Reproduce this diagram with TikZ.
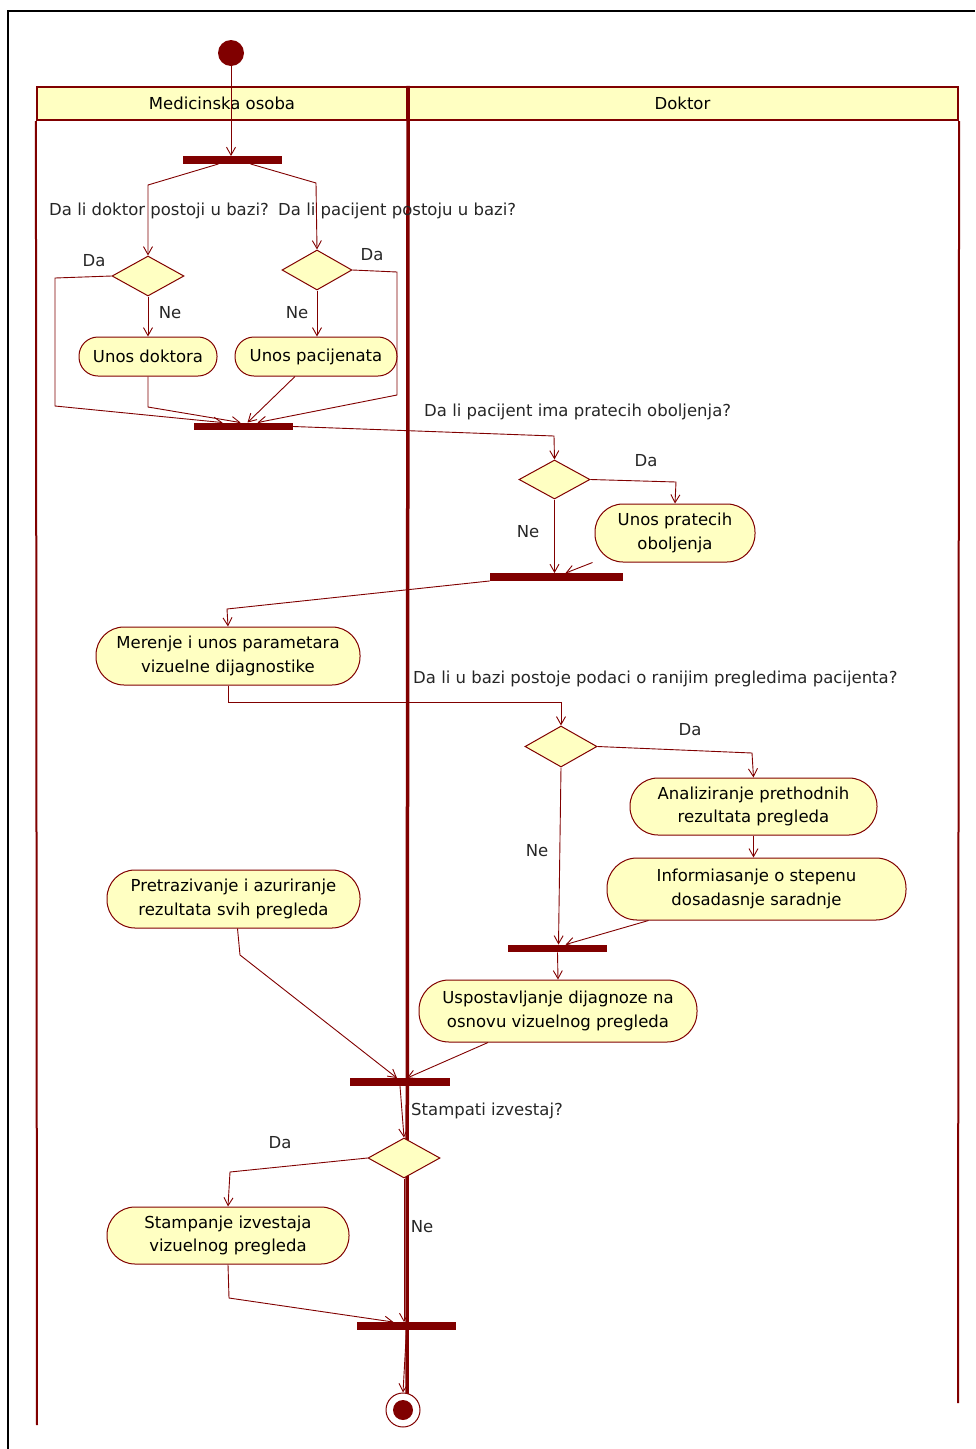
\documentclass[tikz,border=0pt]{standalone}
\usepackage{fontspec}
\setmainfont{DejaVu Sans}
\usepackage{xcolor}
\usepackage{tikz}
\usetikzlibrary{arrows.meta,positioning,calc,shapes.geometric}
\definecolor{umlred}{RGB}{128,0,0}
\definecolor{umlfill}{RGB}{255,255,194}

\begin{document}
\begin{tikzpicture}[x=1pt, y=-1pt, font=\fontsize{16.5}{23.5}\selectfont]
    \tikzstyle{lanehead}=[draw=umlred, line width=2.2pt, fill=umlfill, inner sep=0pt]
    \tikzstyle{activity}=[draw=umlred, line width=1pt, fill=umlfill, rounded corners=19pt, align=center, inner sep=0pt]
    \tikzstyle{bar}=[fill=umlred, inner sep=0pt, minimum width=99pt, minimum height=7.5pt]
    \tikzstyle{decision}=[diamond, draw=umlred, line width=1pt, fill=umlfill, inner sep=0pt, minimum width=72pt, minimum height=40pt]
    \tikzstyle{flow}=[draw=umlred, line width=0.9pt, -{Straight Barb[length=8pt,width=9pt]}]
    \tikzstyle{guard}=[inner sep=0pt, text=black!85]
    \tikzstyle{cond}=[inner sep=0pt, anchor=west, text=black!85]
    \useasboundingbox (0,0) rectangle (975,1449);
    \draw[black, line width=1.5pt] (975,11) -- (8,11) -- (8,1449);

    % swimlanes
    \node[lanehead, minimum width=370pt, minimum height=33pt] (laneMO) at (222,103.5) {Medicinska osoba};
    \node[lanehead, minimum width=551pt, minimum height=33pt] (laneDR) at (682.5,103.5) {Doktor};
    \draw[umlred, line width=2pt] (laneMO.south west) -- (37,1425);
    \draw[umlred, line width=2pt] (laneDR.south east) -- (958,1403);
    \draw[umlred, line width=3.5pt] (laneMO.north east) -- (407,1398);

    % start / end
    \node[circle, fill=umlred, minimum width=23pt, minimum height=26pt, inner sep=0pt] (start) at (231,53) {};
    \node[circle, draw=umlred, line width=1pt, fill=white, minimum size=34pt, inner sep=0pt] (end) at (403,1410) {};
    \fill[umlred] (end.center) circle (10pt);

    % bars
    \node[bar] (fork1) at (232.5,160) {};
    \node[bar] (bar2) at (243.5,426.5) {};
    \node[bar, minimum width=133pt] (bar3) at (556.5,577) {};
    \node[bar] (bar4) at (557.5,948.5) {};
    \node[bar, minimum width=100pt] (bar5) at (400,1082) {};
    \node[bar] (bar6) at (406.5,1326) {};

    % decisions
    \node[decision] (d1) at (148,276) {};
    \node[decision, minimum width=70pt] (d2) at (317,270) {};
    \node[decision, minimum width=71pt, minimum height=39pt] (d3) at (554.5,479.5) {};
    \node[decision, minimum height=41pt] (d4) at (561,746.5) {};
    \node[decision] (d5) at (404,1158) {};

    % activities
    \node[activity, minimum width=138pt, minimum height=39pt] (unosD) at (148,356.5) {Unos doktora};
    \node[activity, minimum width=162pt, minimum height=39pt] (unosP) at (316,356.5) {Unos pacijenata};
    \node[activity, minimum width=160pt, minimum height=58pt, rounded corners=28pt] (unosPr) at (675,533) {Unos pratecih\\oboljenja};
    \node[activity, minimum width=264pt, minimum height=58pt, rounded corners=28pt] (merenje) at (228,656) {Merenje i unos parametara\\vizuelne dijagnostike};
    \node[activity, minimum width=247pt, minimum height=57pt, rounded corners=28pt] (analiz) at (753.5,806.5) {Analiziranje prethodnih\\rezultata pregleda};
    \node[activity, minimum width=299pt, minimum height=62pt, rounded corners=30pt] (inform) at (756.5,889) {Informiasanje o stepenu\\dosadasnje saradnje};
    \node[activity, minimum width=253pt, minimum height=58pt, rounded corners=28pt] (pretraz) at (233.5,899) {Pretrazivanje i azuriranje\\rezultata svih pregleda};
    \node[activity, minimum width=278pt, minimum height=62pt, rounded corners=30pt] (uspost) at (558,1011) {Uspostavljanje dijagnoze na\\osnovu vizuelnog pregleda};
    \node[activity, minimum width=242pt, minimum height=57pt, rounded corners=28pt] (stamp) at (228,1235.5) {Stampanje izvestaja\\vizuelnog pregleda};

    % conditions
    \node[cond] (q1) at (49,211) {Da li doktor postoji u bazi?};
    \node[cond] (q2) at (278,211) {Da li pacijent postoju u bazi?};
    \node[cond] (q3) at (424,412) {Da li pacijent ima pratecih oboljenja?};
    \node[cond] (q4) at (413,679) {Da li u bazi postoje podaci o ranijim pregledima pacijenta?};
    \node[cond] (q5) at (411,1111) {Stampati izvestaj?};

    % guards
    \node[guard] (g1da) at (94,261) {Da};
    \node[guard] (g1ne) at (170,313) {Ne};
    \node[guard] (g2da) at (372,255) {Da};
    \node[guard] (g2ne) at (297,313) {Ne};
    \node[guard] (g3da) at (646,461) {Da};
    \node[guard] (g3ne) at (528,532) {Ne};
    \node[guard] (g4da) at (690,730) {Da};
    \node[guard] (g4ne) at (537,851) {Ne};
    \node[guard] (g5da) at (280,1143) {Da};
    \node[guard] (g5ne) at (422,1227) {Ne};

    % flows
    \draw[flow] (start) -- (start |- fork1.north);
    \draw[flow] ([xshift=-14pt]fork1.south) -- (148,185) -- (d1.north);
    \draw[flow] ([xshift=18pt]fork1.south) -- (316,183) -- (d2.north);
    \draw[flow] (d1.south) -- (unosD.north);
    \draw[flow] (d2.south) -- (d2 |- unosP.north);
    \draw[flow] (d1.west) -- (55,278) -- (55,406) -- ([xshift=-21pt]bar2.north);
    \draw[flow] (unosD.south) -- (148,407) -- ([xshift=-3pt]bar2.north);
    \draw[flow] ([xshift=-21pt]unosP.south) -- ([xshift=4pt]bar2.north);
    \draw[flow] (d2.east) -- (397,272) -- (397,395) -- ([xshift=14pt]bar2.north);
    \draw[flow] (bar2.east) -- (554,436) -- (d3.north);
    \draw[flow] (d3.east) -- (676,482) -- (unosPr.north);
    \draw[flow] (d3.south) -- (d3 |- bar3.north);
    \draw[flow] ([xshift=-2pt]unosPr.south west) -- ([xshift=9pt]bar3.north);
    \draw[flow] (bar3.south west) -- (227,609) -- (merenje.north);
    \draw[flow] (merenje.south) -- ++(0,17) -| (d4.north);
    \draw[flow] (d4.east) -- (752,753) -- (analiz.north);
    \draw[flow] (d4.south) -- ([xshift=1pt]bar4.north);
    \draw[flow] (analiz.south) -- (analiz.south |- inform.north);
    \draw[flow] ([xshift=-108pt]inform.south) -- ([xshift=8pt]bar4.north);
    \draw[flow] (bar4.south) -- (uspost.north);
    \draw[flow] ([xshift=-70pt]uspost.south) -- ([xshift=7pt]bar5.north);
    \draw[flow] ([xshift=4pt]pretraz.south) -- (240,955) -- ([xshift=-3pt]bar5.north);
    \draw[flow] (bar5.south) -- (d5.north);
    \draw[flow] (d5.west) -- (230,1172) -- (stamp.north);
    \draw[flow] (d5.south) -- (d5 |- bar6.north);
    \draw[flow] (stamp.south) -- (229,1298) -- ([xshift=-13pt]bar6.north);
    \draw[flow] (bar6.south) -- (end.north);
\end{tikzpicture}
\end{document}
